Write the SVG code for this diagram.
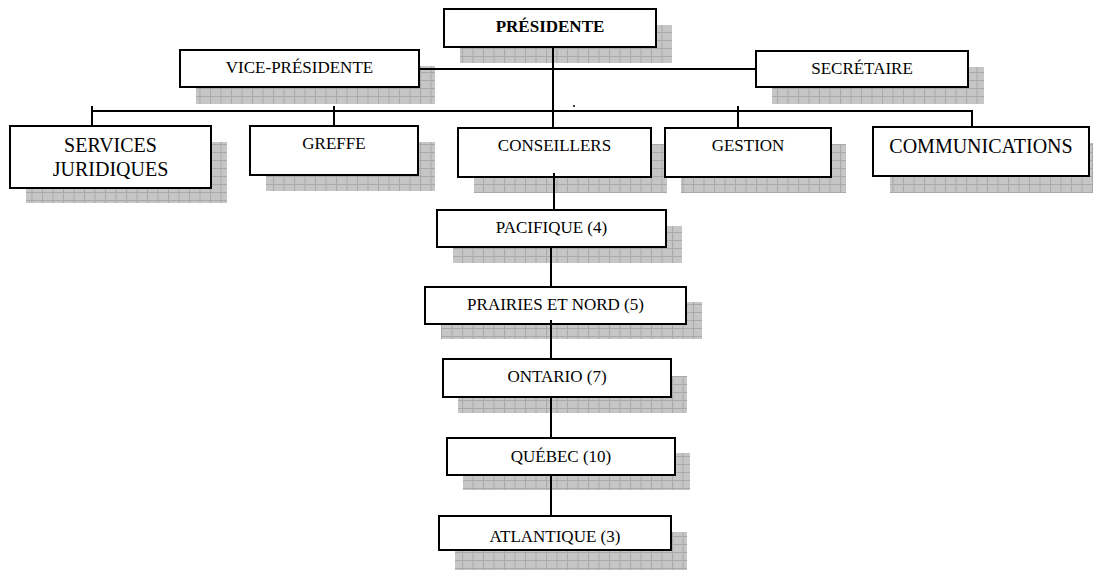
<svg xmlns="http://www.w3.org/2000/svg" width="1096" height="571" viewBox="0 0 1096 571">
<style>
.box{fill:#fff;stroke:#000;stroke-width:2}
.sh{fill:url(#grid)}
.t{font-family:"Liberation Serif","Times New Roman",serif;font-size:17px;fill:#000;text-anchor:middle}
.big{font-size:20px}
.b{font-weight:bold}
.c{stroke:#000;stroke-width:2;fill:none}
</style>
<defs>
<pattern id="grid" patternUnits="userSpaceOnUse" width="10.5" height="8">
<rect width="10.5" height="8" fill="#c6c6c6"/>
<path d="M0 0.5H10.5M0.5 0V8" stroke="#a9a9a9" stroke-width="1"/>
</pattern>
</defs>
<rect width="1096" height="571" fill="#fff"/>

<g id="presidente">
<rect class="sh" x="460" y="25" width="212" height="38"/>
<rect class="box" x="444" y="9" width="212" height="38"/>
<text class="t b" x="550" y="32">PRÉSIDENTE</text>
</g>
<g id="vice-presidente">
<rect class="sh" x="196" y="66" width="239" height="38"/>
<rect class="box" x="180" y="50" width="239" height="37"/>
<text class="t" x="299.5" y="73">VICE-PRÉSIDENTE</text>
</g>
<g id="secretaire">
<rect class="sh" x="772" y="67" width="212" height="37"/>
<rect class="box" x="756" y="51" width="212" height="36"/>
<text class="t" x="862" y="74">SECRÉTAIRE</text>
</g>
<g id="services-juridiques">
<rect class="sh" x="26" y="142" width="201" height="61"/>
<rect class="box" x="10" y="126" width="201" height="62"/>
<text class="t big" x="110.5" y="152">SERVICES</text>
<text class="t big" x="110.5" y="176">JURIDIQUES</text>
</g>
<g id="greffe">
<rect class="sh" x="266" y="142" width="169" height="49"/>
<rect class="box" x="250" y="126" width="168" height="49"/>
<text class="t" x="334" y="149">GREFFE</text>
</g>
<g id="conseillers">
<rect class="sh" x="474" y="144" width="193" height="49"/>
<rect class="box" x="458" y="128" width="193" height="49"/>
<text class="t" x="554.5" y="151">CONSEILLERS</text>
</g>
<g id="gestion">
<rect class="sh" x="681" y="144" width="165" height="49"/>
<rect class="box" x="665" y="128" width="166" height="49"/>
<text class="t" x="748" y="151">GESTION</text>
</g>
<g id="communications">
<rect class="sh" x="890" y="143" width="203" height="50"/>
<rect class="box" x="873" y="127" width="216" height="49"/>
<text class="t big" x="981" y="153">COMMUNICATIONS</text>
</g>
<g id="pacifique">
<rect class="sh" x="453" y="226" width="229" height="37"/>
<rect class="box" x="437" y="210" width="229" height="37"/>
<text class="t" x="551.5" y="233">PACIFIQUE (4)</text>
</g>
<g id="prairies">
<rect class="sh" x="441" y="302" width="261" height="37"/>
<rect class="box" x="425" y="287" width="261" height="37"/>
<text class="t" x="555.5" y="310">PRAIRIES ET NORD (5)</text>
</g>
<g id="ontario">
<rect class="sh" x="458" y="376" width="229" height="37"/>
<rect class="box" x="443" y="359" width="228" height="38"/>
<text class="t" x="557" y="382">ONTARIO (7)</text>
</g>
<g id="quebec">
<rect class="sh" x="463" y="453" width="227" height="37"/>
<rect class="box" x="447" y="438" width="228" height="37"/>
<text class="t" x="561" y="462">QUÉBEC (10)</text>
</g>
<g id="atlantique">
<rect class="sh" x="455" y="532" width="232" height="38"/>
<rect class="box" x="439" y="516" width="232" height="34"/>
<text class="t" x="555" y="542">ATLANTIQUE (3)</text>
</g>

<g id="connectors">
<path class="c" d="M419 69H756"/>
<path class="c" d="M553 47V128"/>
<path class="c" d="M92 111H972"/>
<path class="c" d="M92 106V126"/>
<path class="c" d="M334 106V126"/>
<path class="c" d="M738 106V128"/>
<path class="c" d="M972 110V127"/>
<path class="c" d="M554 173V210"/>
<path class="c" d="M551 247V287"/>
<path class="c" d="M551 320V359"/>
<path class="c" d="M551 397V438"/>
<path class="c" d="M551 475V516"/>
<circle cx="574" cy="106" r="1" fill="#000"/>
</g>
</svg>
